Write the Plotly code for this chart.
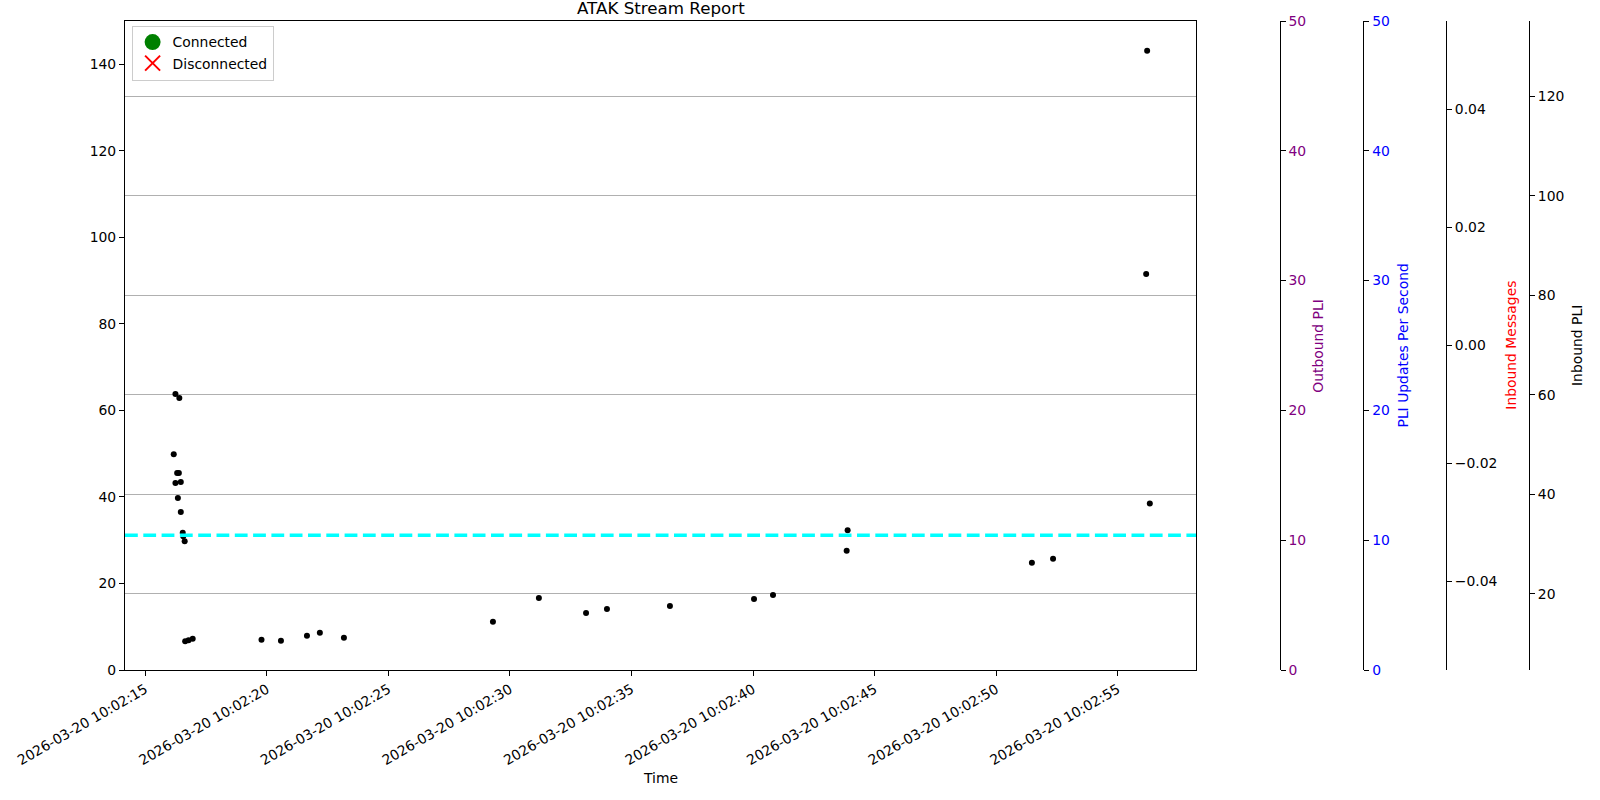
import plotly.graph_objects as go

# ---- data ----
day = "2026-03-20 "
pli_times = ["10:02:16.24", "10:02:16.40", "10:02:16.17", "10:02:16.31", "10:02:16.38",
             "10:02:16.24", "10:02:16.46", "10:02:16.34", "10:02:16.46", "10:02:16.54",
             "10:02:16.56", "10:02:16.62", "10:02:16.64", "10:02:16.78", "10:02:16.95",
             "10:02:19.78", "10:02:20.58", "10:02:21.65", "10:02:22.18", "10:02:23.17",
             "10:02:29.30", "10:02:31.19", "10:02:33.13", "10:02:33.99", "10:02:36.58",
             "10:02:40.04", "10:02:40.82", "10:02:43.89", "10:02:43.85", "10:02:51.47",
             "10:02:52.34", "10:02:56.32", "10:02:56.21", "10:02:56.17"]
inbound_pli = [60.2, 59.4, 48.1, 44.3, 44.3, 42.3, 42.5, 39.3, 36.5, 32.3,
               31.6, 30.6, 10.5, 10.7, 11.0, 10.8, 10.6, 11.6, 12.2, 11.2,
               14.4, 19.2, 16.2, 17.0, 17.6, 19.0, 19.8, 32.8, 28.7, 26.3,
               27.1, 38.2, 129.2, 84.3]
inbound_pli_mean = 31.8
x_range = ["2026-03-20 10:02:14.165", "2026-03-20 10:02:58.22"]
left_range = [0, 150]
outbound_range = [0, 50]
updates_range = [0, 50]
inbound_msg_range = [-0.055, 0.055]
inbound_pli_range = [4.72, 135.16]

FONT = "DejaVu Sans"
FS = 13.9
L, R, T, B = 125, 71, 21, 130
PW, PH = 1600 - L - R, 800 - T - B


def px_x(X):
    return (X - L) / PW


def px_y(Y):
    return (800 - B - Y) / PH


fig = go.Figure()

# legend-only entries (no points in the reference)
fig.add_trace(go.Scatter(x=[None], y=[None], mode="markers", name="Connected",
                         marker=dict(color="green", size=16, symbol="circle")))
fig.add_trace(go.Scatter(x=[None], y=[None], mode="markers", name="Disconnected",
                         marker=dict(color="red", size=15, symbol="x-thin-open",
                                     line=dict(color="red", width=2))))
# invisible traces to activate extra axes
fig.add_trace(go.Scatter(x=[None], y=[None], yaxis="y2", showlegend=False))
fig.add_trace(go.Scatter(x=[None], y=[None], yaxis="y3", showlegend=False))
fig.add_trace(go.Scatter(x=[None], y=[None], yaxis="y4", showlegend=False))

fig.add_trace(go.Scatter(x=[day + t for t in pli_times], y=inbound_pli, yaxis="y5",
                         mode="markers", showlegend=False,
                         marker=dict(color="black", size=6)))

fig.add_shape(type="line", xref="x domain", x0=0, x1=1, yref="y5",
              y0=inbound_pli_mean, y1=inbound_pli_mean,
              line=dict(color="#00ffff", width=3.5, dash="12.8px,5.5px"))

xdom_end = px_x(1196)
common = dict(showgrid=False, zeroline=False, ticks="outside", ticklen=5,
              tickcolor="black", showline=True, linecolor="black", linewidth=1.1,
              automargin=False,
              tickfont=dict(family=FONT, size=FS, color="black"))

fig.update_layout(
    width=1600, height=800,
    margin=dict(l=L, r=R, t=T, b=B, autoexpand=False),
    paper_bgcolor="white", plot_bgcolor="white",
    font=dict(family=FONT, size=FS, color="black"),
    xaxis=dict(domain=[0, xdom_end], type="date", range=x_range,
               tick0="2026-03-20 10:02:15", dtick=5000,
               tickformat="%Y-%m-%d %H:%M:%S", tickangle=-30, mirror=True,
               **common),
    yaxis=dict(range=left_range, dtick=20, mirror=True, **common),
    yaxis2=dict(overlaying="y", anchor="free", side="right",
                position=px_x(1279.6), range=outbound_range, dtick=10,
                **{**common, "tickfont": dict(family=FONT, size=FS, color="purple")}),
    yaxis3=dict(overlaying="y", anchor="free", side="right",
                position=px_x(1363.3), range=updates_range, dtick=10,
                **{**common, "tickfont": dict(family=FONT, size=FS, color="blue")}),
    yaxis4=dict(overlaying="y", anchor="free", side="right",
                position=px_x(1446), range=inbound_msg_range, dtick=0.02,
                tickformat=".2f", **common),
    yaxis5=dict(overlaying="y", anchor="free", side="right", position=1.0,
                range=inbound_pli_range, dtick=20,
                **{**common, "showgrid": True}, gridcolor="#b0b0b0", gridwidth=1.1),
    legend=dict(x=px_x(131.6), y=px_y(25.5), xanchor="left", yanchor="top",
                bgcolor="rgba(255,255,255,0.8)", bordercolor="#cccccc", borderwidth=1,
                font=dict(family=FONT, size=FS)),
)

annos = [
    dict(text="ATAK Stream Report", x=xdom_end / 2, y=1, yanchor="bottom", yshift=1,
         textangle=0, size=16.7, color="black"),
    dict(text="Time", x=xdom_end / 2, y=px_y(777.6), yanchor="middle", yshift=0,
         textangle=0, size=FS, color="black"),
    dict(text="Outbound PLI", x=px_x(1317.3), y=0.5, yanchor="middle", yshift=0,
         textangle=-90, size=FS, color="purple"),
    dict(text="PLI Updates Per Second", x=px_x(1402.0), y=0.5, yanchor="middle", yshift=0,
         textangle=-90, size=FS, color="blue"),
    dict(text="Inbound Messages", x=px_x(1510.2), y=0.5, yanchor="middle", yshift=0,
         textangle=-90, size=FS, color="red"),
    dict(text="Inbound PLI", x=px_x(1576.5), y=0.5, yanchor="middle", yshift=0,
         textangle=-90, size=FS, color="black"),
]
for a in annos:
    fig.add_annotation(text=a["text"], xref="paper", yref="paper", x=a["x"], y=a["y"],
                       xanchor="center", yanchor=a["yanchor"], yshift=a["yshift"],
                       textangle=a["textangle"], showarrow=False,
                       font=dict(family=FONT, size=a["size"], color=a["color"]))

fig.write_html("out.html", config={"displayModeBar": False},
               post_script="document.body.style.margin='0';")
